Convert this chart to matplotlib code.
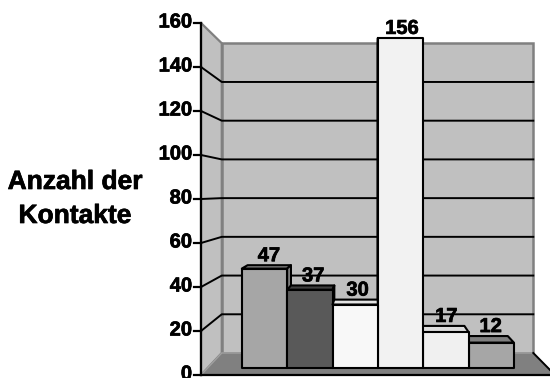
import matplotlib
matplotlib.use("Agg")
import matplotlib.pyplot as plt
import matplotlib.patheffects as pe
from matplotlib.patches import Polygon

# Values and labels
values = [47, 37, 30, 156, 17, 12]
front_colors = ['#a6a6a6', '#595959', '#f8f8f8', '#f2f2f2', '#f0f0f0', '#a6a6a6']
top_colors = ['#8a8a8a', '#3f3f3f', '#e4e4e4', '#dedede', '#dcdcdc', '#7f7f7f']
yticks = [0, 20, 40, 60, 80, 100, 120, 140, 160]
ymax = 160
title_lines = ['Anzahl der', 'Kontakte']

plt.rcParams['font.family'] = ['Liberation Sans', 'DejaVu Sans']
heavy = [pe.withStroke(linewidth=0.5, foreground='black')]

# pseudo-3D layout (Excel style perspective box), in pixels
VX, VY = 374.0, 191.7          # vanishing point
X_LEFT, X_RIGHT = 201.0, 555.0  # front plane extent
Y_BASE, PX_PER_VAL = 375.0, 2.2
SHRINK = 0.12                   # size loss from front to back wall
GAP = 0.755                     # empty space left/right of bars (in bar widths)
Z_FRONT, Z_BACK = 0.318, 0.667  # depth of the bars
n = len(values)
px_per_u = (X_RIGHT - X_LEFT) / (n + 2 * GAP)


def proj(u, v, z):
    X = X_LEFT + (u + GAP) * px_per_u
    Y = Y_BASE - v * PX_PER_VAL
    s = 1 - SHRINK * z
    return (VX + (X - VX) * s, VY + (Y - VY) * s)


fig = plt.figure(figsize=(5.5, 3.78), dpi=100)
ax = fig.add_axes([0, 0, 1, 1])
ax.set_xlim(0, 550)
ax.set_ylim(378, 0)
ax.axis('off')

u0, u1 = -GAP, n + GAP

# back wall
ax.add_patch(Polygon([proj(u0, 0, 1), proj(u1, 0, 1), proj(u1, ymax, 1), proj(u0, ymax, 1)],
                     closed=True, facecolor='#c0c0c0', edgecolor='#808080', lw=1.8, zorder=1))
# side wall
ax.add_patch(Polygon([proj(u0, 0, 0), proj(u0, 0, 1), proj(u0, ymax, 1), proj(u0, ymax, 0)],
                     closed=True, facecolor='#c0c0c0', edgecolor='#808080', lw=1.6, zorder=1))
# floor
ax.add_patch(Polygon([proj(u0, 0, 0), proj(u0, 0, 1), proj(u1, 0, 1), proj(u1, 0, 0)],
                     closed=True, facecolor='#808080', edgecolor='#a0a0a0', lw=1.0, zorder=1))
p, q = proj(u1, 0, 1), proj(u1, 0, 0)
ax.plot([p[0], q[0]], [p[1], q[1]], color='black', lw=1.4, zorder=2)

# gridlines on side and back wall
for v in yticks[1:-1]:
    a, b, c = proj(u0, v, 0), proj(u0, v, 1), proj(u1, v, 1)
    ax.plot([a[0], b[0], c[0]], [a[1], b[1], c[1]], color='black', lw=1.4, zorder=2)

# bars: outermost first so inner bars cover hidden side faces
order = sorted(range(n), key=lambda i: -abs(proj(i + 0.5, 0, 0)[0] - VX))
for k, i in enumerate(order):
    v = values[i]
    zo = 3 + k
    faces = []
    if proj(0, v, 0)[1] > VY:
        faces.append([proj(i, v, Z_FRONT), proj(i + 1, v, Z_FRONT),
                      proj(i + 1, v, Z_BACK), proj(i, v, Z_BACK)])
    if proj(i + 1, 0, 0)[0] < VX:
        faces.append([proj(i + 1, 0, Z_FRONT), proj(i + 1, 0, Z_BACK),
                      proj(i + 1, v, Z_BACK), proj(i + 1, v, Z_FRONT)])
    if proj(i, 0, 0)[0] > VX + 1:
        faces.append([proj(i, 0, Z_FRONT), proj(i, 0, Z_BACK),
                      proj(i, v, Z_BACK), proj(i, v, Z_FRONT)])
    for f in faces:
        ax.add_patch(Polygon(f, closed=True, facecolor=top_colors[i], edgecolor='black',
                             lw=1.5, joinstyle='round', zorder=zo))
    ax.add_patch(Polygon([proj(i, 0, Z_FRONT), proj(i + 1, 0, Z_FRONT),
                          proj(i + 1, v, Z_FRONT), proj(i, v, Z_FRONT)],
                         closed=True, facecolor=front_colors[i], edgecolor='black',
                         lw=1.5, joinstyle='round', zorder=zo))
    # value label
    xm = proj(i + 0.5, v, (Z_FRONT + Z_BACK) / 2)[0] + 2
    ytop = min(proj(i, v, Z_FRONT)[1], proj(i, v, Z_BACK)[1])
    ax.text(xm, ytop - 4, str(v), ha='center', va='baseline', fontsize=14.5,
            fontweight='bold', path_effects=heavy, zorder=20)

# front value axis
a, b = proj(u0, 0, 0), proj(u0, ymax, 0)
ax.plot([a[0], b[0]], [a[1], b[1]], color='black', lw=1.6, zorder=15)
c = proj(u1, 0, 0)
ax.plot([a[0], c[0]], [a[1], c[1]], color='black', lw=1.6, zorder=15)
for v in yticks:
    x, y = proj(u0, v, 0)
    ax.plot([x - 7, x], [y, y], color='black', lw=1.6, zorder=15)
    ax.text(x - 9, y - 1, str(v), ha='right', va='center', fontsize=14.5,
            fontweight='bold', path_effects=heavy, zorder=15)

# axis title
ax.text(75, 189, title_lines[0], ha='center', va='baseline', fontsize=19,
        fontweight='bold', path_effects=heavy)
ax.text(75, 223, title_lines[1], ha='center', va='baseline', fontsize=19,
        fontweight='bold', path_effects=heavy)

fig.savefig('out.png', dpi=100)
